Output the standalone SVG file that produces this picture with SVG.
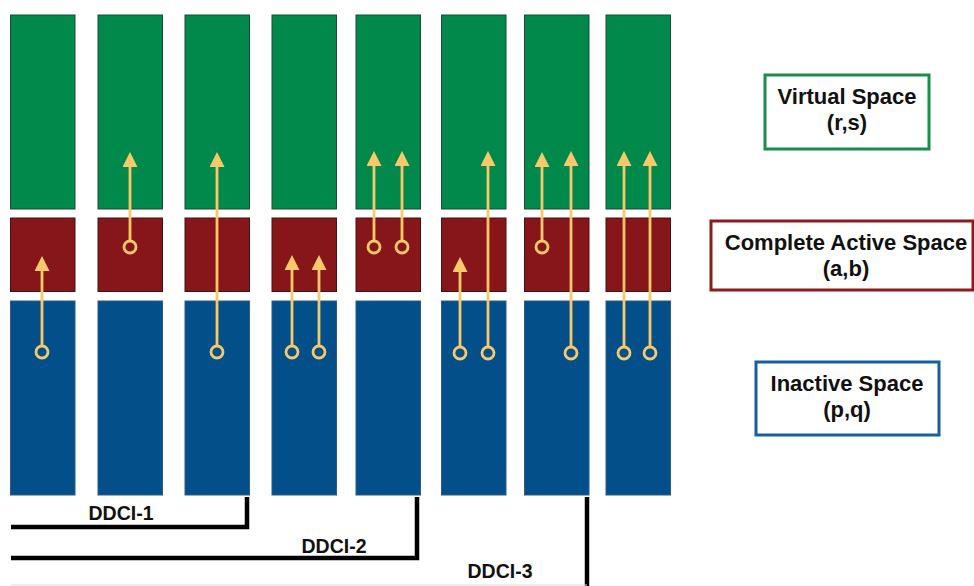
<svg xmlns="http://www.w3.org/2000/svg" width="974" height="586" viewBox="0 0 974 586">
<style>
.v{fill:#00894a;stroke:#1d4a33;stroke-width:1}
.c{fill:#86161a;stroke:#3f1213;stroke-width:1}
.i{fill:#024f89;stroke:#2b5d86;stroke-width:1}
.arr{stroke:#f8c96b;stroke-width:2.8;fill:none}
.dot{stroke:#f8c96b;stroke-width:2.8;fill:none}
.br{stroke:#000;stroke-width:4.5;fill:none}
.lbl{font-family:"Liberation Sans",Arial,sans-serif;font-weight:bold;font-size:19.5px;fill:#111;text-anchor:middle}
.lg{font-family:"Liberation Sans",Arial,sans-serif;font-weight:bold;font-size:22px;fill:#111;text-anchor:middle}
</style>
<defs>
<marker id="ah" viewBox="0 0 15 15" refX="0" refY="7.5" markerWidth="15" markerHeight="15" markerUnits="userSpaceOnUse" orient="auto">
<path d="M0,0 L15,7.5 L0,15 z" fill="#f8c96b"/>
</marker>
</defs>
<rect width="974" height="586" fill="#fff"/>
<g id="col1"><rect class="v" x="10.5" y="15" width="64.5" height="194"/><rect class="c" x="10.5" y="218" width="64.5" height="73.5"/><rect class="i" x="10.5" y="301" width="64.5" height="194"/></g>
<g id="col2"><rect class="v" x="98" y="15" width="64.5" height="194"/><rect class="c" x="98" y="218" width="64.5" height="73.5"/><rect class="i" x="98" y="301" width="64.5" height="194"/></g>
<g id="col3"><rect class="v" x="185" y="15" width="64.5" height="194"/><rect class="c" x="185" y="218" width="64.5" height="73.5"/><rect class="i" x="185" y="301" width="64.5" height="194"/></g>
<g id="col4"><rect class="v" x="272" y="15" width="64.5" height="194"/><rect class="c" x="272" y="218" width="64.5" height="73.5"/><rect class="i" x="272" y="301" width="64.5" height="194"/></g>
<g id="col5"><rect class="v" x="356" y="15" width="64.5" height="194"/><rect class="c" x="356" y="218" width="64.5" height="73.5"/><rect class="i" x="356" y="301" width="64.5" height="194"/></g>
<g id="col6"><rect class="v" x="441.5" y="15" width="64.5" height="194"/><rect class="c" x="441.5" y="218" width="64.5" height="73.5"/><rect class="i" x="441.5" y="301" width="64.5" height="194"/></g>
<g id="col7"><rect class="v" x="524.5" y="15" width="64.5" height="194"/><rect class="c" x="524.5" y="218" width="64.5" height="73.5"/><rect class="i" x="524.5" y="301" width="64.5" height="194"/></g>
<g id="col8"><rect class="v" x="606" y="15" width="64.5" height="194"/><rect class="c" x="606" y="218" width="64.5" height="73.5"/><rect class="i" x="606" y="301" width="64.5" height="194"/></g>
<g id="connectors">
<line class="arr" x1="42" y1="346" x2="42" y2="271" marker-end="url(#ah)"/><circle class="dot" cx="42" cy="352" r="6"/>
<line class="arr" x1="130" y1="241" x2="130" y2="167" marker-end="url(#ah)"/><circle class="dot" cx="130" cy="247" r="6"/>
<line class="arr" x1="217" y1="346" x2="217" y2="167" marker-end="url(#ah)"/><circle class="dot" cx="217" cy="352" r="6"/>
<line class="arr" x1="292" y1="346" x2="292" y2="270" marker-end="url(#ah)"/><circle class="dot" cx="292" cy="352" r="6"/>
<line class="arr" x1="319" y1="346" x2="319" y2="270" marker-end="url(#ah)"/><circle class="dot" cx="319" cy="352" r="6"/>
<line class="arr" x1="374" y1="241" x2="374" y2="166" marker-end="url(#ah)"/><circle class="dot" cx="374" cy="247" r="6"/>
<line class="arr" x1="402" y1="241" x2="402" y2="166" marker-end="url(#ah)"/><circle class="dot" cx="402" cy="247" r="6"/>
<line class="arr" x1="460" y1="347" x2="460" y2="272" marker-end="url(#ah)"/><circle class="dot" cx="460" cy="353" r="6"/>
<line class="arr" x1="488" y1="347" x2="488" y2="166" marker-end="url(#ah)"/><circle class="dot" cx="488" cy="353" r="6"/>
<line class="arr" x1="542" y1="241" x2="542" y2="167" marker-end="url(#ah)"/><circle class="dot" cx="542" cy="247" r="6"/>
<line class="arr" x1="571" y1="347" x2="571" y2="166" marker-end="url(#ah)"/><circle class="dot" cx="571" cy="353" r="6"/>
<line class="arr" x1="624" y1="347" x2="624" y2="166" marker-end="url(#ah)"/><circle class="dot" cx="624" cy="353" r="6"/>
<line class="arr" x1="650" y1="347" x2="650" y2="166" marker-end="url(#ah)"/><circle class="dot" cx="650" cy="353" r="6"/>
</g>
<g id="brackets">
<path class="br" d="M11,527 H247 V497"/>
<path class="br" d="M11,558 H417 V497"/>
<path class="br" d="M587,497 V586"/>
<line x1="11" y1="585" x2="587" y2="585" stroke="#dcdcdc" stroke-width="1"/>
<text class="lbl" x="121" y="520">DDCI-1</text>
<text class="lbl" x="334" y="553">DDCI-2</text>
<text class="lbl" x="500" y="578">DDCI-3</text>
</g>
<g id="legend-virtual">
<rect x="765" y="75" width="164" height="74" fill="#fff" stroke="#1a8c4c" stroke-width="3"/>
<text class="lg" x="847" y="104">Virtual Space</text>
<text class="lg" x="847" y="130">(r,s)</text>
</g>
<g id="legend-cas">
<rect x="711" y="221" width="262" height="69" fill="#fff" stroke="#8a1c1e" stroke-width="3"/>
<text class="lg" x="846" y="250">Complete Active Space</text>
<text class="lg" x="846" y="276">(a,b)</text>
</g>
<g id="legend-inactive">
<rect x="756" y="362" width="183" height="73" fill="#fff" stroke="#15609e" stroke-width="3"/>
<text class="lg" x="847" y="391">Inactive Space</text>
<text class="lg" x="847" y="417">(p,q)</text>
</g>
</svg>
